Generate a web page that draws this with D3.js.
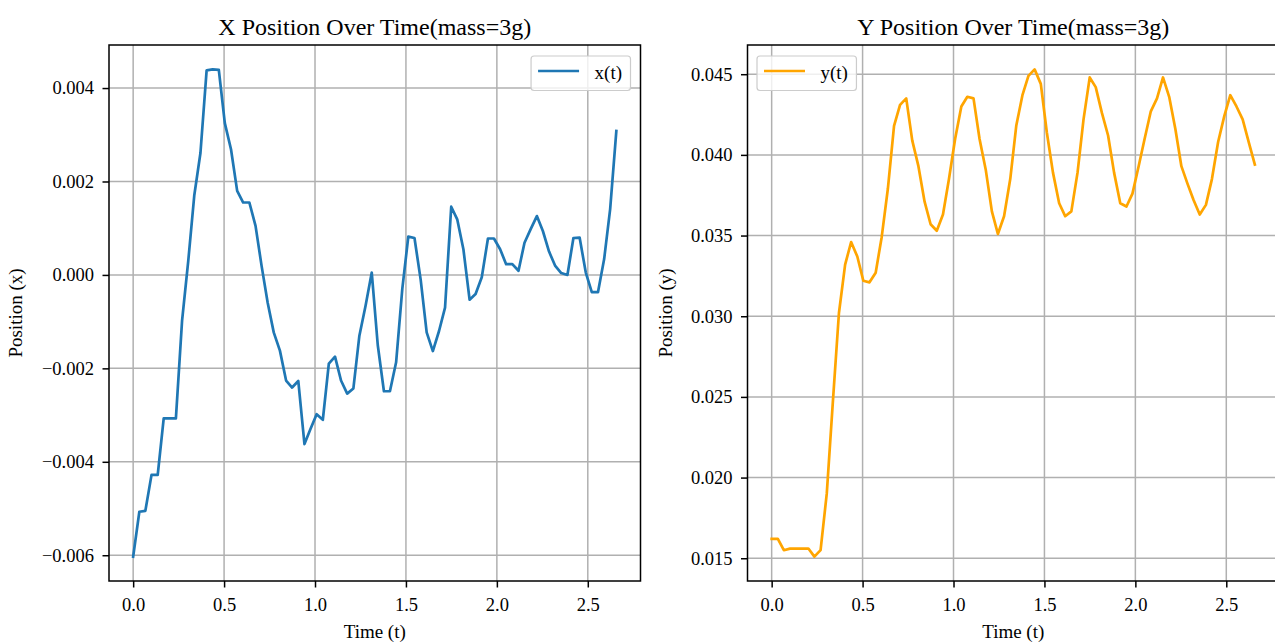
<!DOCTYPE html>
<html>
<head>
<meta charset="utf-8">
<script src="https://cdn.jsdelivr.net/npm/d3@7"></script>
<style>
  body { margin: 0; background: #fff; }
  svg text { font-family: "Liberation Serif", "Times New Roman", serif; fill: #000; }
</style>
</head>
<body>
<div id="plotspace"></div>
<script>
// time samples (s)
var times = [
    0.000, 0.034, 0.067, 0.101, 0.135, 0.168, 0.202, 0.235, 0.269, 0.303,
    0.336, 0.370, 0.404, 0.437, 0.471, 0.504, 0.538, 0.572, 0.605, 0.639,
    0.673, 0.706, 0.740, 0.773, 0.807, 0.841, 0.874, 0.908, 0.942, 0.975,
    1.009, 1.043, 1.076, 1.110, 1.143, 1.177, 1.211, 1.244, 1.278, 1.312,
    1.345, 1.379, 1.412, 1.446, 1.480, 1.513, 1.547, 1.581, 1.614, 1.648,
    1.682, 1.715, 1.749, 1.782, 1.816, 1.850, 1.883, 1.917, 1.951, 1.984,
    2.018, 2.051, 2.085, 2.119, 2.152, 2.186, 2.220, 2.253, 2.287, 2.320,
    2.354, 2.388, 2.421, 2.455, 2.489, 2.522, 2.556, 2.590, 2.623, 2.657
];

var xpos = [
    -0.00603, -0.00507, -0.00505, -0.00428, -0.00428, -0.00307, -0.00307, -0.00307, -0.00098, 0.00030,
    0.00170, 0.00261, 0.00438, 0.00440, 0.00439, 0.00325, 0.00269, 0.00180, 0.00155, 0.00155,
    0.00105, 0.00020, -0.00060, -0.00123, -0.00162, -0.00226, -0.00241, -0.00227, -0.00362, -0.00330,
    -0.00298, -0.00310, -0.00190, -0.00175, -0.00226, -0.00254, -0.00243, -0.00130, -0.00066, 0.00005,
    -0.00150, -0.00249, -0.00249, -0.00187, -0.00030, 0.00082, 0.00079, -0.00010, -0.00123, -0.00163,
    -0.00120, -0.00070, 0.00146, 0.00119, 0.00055, -0.00053, -0.00041, -0.00005, 0.00078, 0.00078,
    0.00055, 0.00023, 0.00023, 0.00009, 0.00069, 0.00098, 0.00126, 0.00094, 0.00050, 0.00020,
    0.00004, 0.00000, 0.00079, 0.00080, 0.00005, -0.00037, -0.00037, 0.00034, 0.00141, 0.00308
];

var ypos = [
    0.0162, 0.0162, 0.0155, 0.0156, 0.0156, 0.0156, 0.0156, 0.0151, 0.0155, 0.0190,
    0.0246, 0.0302, 0.0332, 0.0346, 0.0337, 0.0322, 0.0321, 0.0327, 0.0349, 0.0379,
    0.0418, 0.0431, 0.0435, 0.0409, 0.0393, 0.0371, 0.0357, 0.0353, 0.0363, 0.0385,
    0.0410, 0.0430, 0.0436, 0.0435, 0.0410, 0.0391, 0.0365, 0.0351, 0.0362, 0.0385,
    0.0418, 0.0437, 0.0449, 0.0453, 0.0444, 0.0414, 0.0389, 0.0370, 0.0362, 0.0365,
    0.0389, 0.0422, 0.0448, 0.0442, 0.0426, 0.0412, 0.0389, 0.0370, 0.0368, 0.0376,
    0.0393, 0.0410, 0.0427, 0.0435, 0.0448, 0.0436, 0.0416, 0.0393, 0.0382, 0.0372,
    0.0363, 0.0369, 0.0385, 0.0408, 0.0424, 0.0437, 0.0430, 0.0422, 0.0408, 0.0394
];

var timeTicks = [0, 0.5, 1, 1.5, 2, 2.5];
var xposTicks = [-0.006, -0.004, -0.002, 0, 0.002, 0.004];
var yposTicks = [0.015, 0.020, 0.025, 0.030, 0.035, 0.040, 0.045];

var Chart = (function() {

    var width = 1275;
    var height = 643;
    var plotTop = 45;
    var plotBottom = 581;
    var plotWidth = 531.5;
    var tickLen = 6.5;

    // matplotlib style 5% margins on each side
    var padded = function(ext) {
        var m = (ext[1] - ext[0]) * 0.05;
        return [ext[0] - m, ext[1] + m];
    };

    var panel = function(svg, left, values, yticks, opts) {
        var x = d3.scaleLinear().
            domain(padded(d3.extent(times))).
            range([left, left + plotWidth]);
        var y = d3.scaleLinear().
            domain(padded(d3.extent(values))).
            range([plotBottom, plotTop]);

        var g = svg.append("g");

        // grid
        g.selectAll("line.vgrid").
            data(timeTicks).
            enter().append("line").
            attr("class", "vgrid").
            attr("x1", function(d) { return x(d); }).
            attr("x2", function(d) { return x(d); }).
            attr("y1", plotTop).
            attr("y2", plotBottom).
            attr("stroke", "#b0b0b0").
            attr("stroke-width", 1.5);
        g.selectAll("line.hgrid").
            data(yticks).
            enter().append("line").
            attr("class", "hgrid").
            attr("x1", left).
            attr("x2", left + plotWidth).
            attr("y1", function(d) { return y(d); }).
            attr("y2", function(d) { return y(d); }).
            attr("stroke", "#b0b0b0").
            attr("stroke-width", 1.5);

        // the series
        var line = d3.line().
            x(function(d, i) { return x(times[i]); }).
            y(function(d) { return y(d); });
        g.append("path").
            datum(values).
            attr("d", line).
            attr("fill", "none").
            attr("stroke", opts.color).
            attr("stroke-width", 2.7).
            attr("stroke-linejoin", "round").
            attr("stroke-linecap", "square");

        // axes
        var bottomAxis = d3.axisBottom(x).
            tickValues(timeTicks).
            tickFormat(d3.format(".1f")).
            tickSize(tickLen).
            tickPadding(10.4);
        var leftAxis = d3.axisLeft(y).
            tickValues(yticks).
            tickFormat(d3.format(".3f")).
            tickSize(tickLen).
            tickPadding(8.5);

        var ax = g.append("g").
            attr("transform", "translate(0," + plotBottom + ")").
            call(bottomAxis);
        var ay = g.append("g").
            attr("transform", "translate(" + left + ",0)").
            call(leftAxis);
        [ax, ay].forEach(function(a) {
            a.select(".domain").remove();
            a.selectAll(".tick line").attr("stroke", "#000").attr("stroke-width", 1.5);
            a.selectAll(".tick text").
                attr("fill", "#000").
                style("font-size", "18.5px").
                style("font-family", "'Liberation Serif', 'Times New Roman', serif");
        });

        // spines
        g.append("rect").
            attr("x", left).
            attr("y", plotTop).
            attr("width", plotWidth).
            attr("height", plotBottom - plotTop).
            attr("fill", "none").
            attr("stroke", "#000").
            attr("stroke-width", 1.5);

        // title and labels
        g.append("text").
            attr("x", left + plotWidth / 2).
            attr("y", 35).
            attr("text-anchor", "middle").
            style("font-size", "24px").
            text(opts.title);
        g.append("text").
            attr("x", left + plotWidth / 2).
            attr("y", 638).
            attr("text-anchor", "middle").
            style("font-size", "19px").
            text("Time (t)");
        g.append("text").
            attr("transform", "translate(" + (left + opts.labelOffset) + "," + ((plotTop + plotBottom) / 2) + ") rotate(-90)").
            attr("text-anchor", "middle").
            style("font-size", "19px").
            text(opts.ylabel);

        // legend
        var lg = g.append("g");
        var box = lg.append("rect").
            attr("y", plotTop + 11).
            attr("height", 34.5).
            attr("rx", 3).
            attr("fill", "#fff").
            attr("fill-opacity", 0.8).
            attr("stroke", "#cccccc").
            attr("stroke-width", 1.2);
        var label = lg.append("text").
            attr("y", plotTop + 34).
            style("font-size", "19px").
            text(opts.legend);
        var textW = label.node().getComputedTextLength();
        var boxW = 64 + textW + 8;
        var bx = opts.legendRight ? left + plotWidth - 10 - boxW : left + 9.5;
        box.attr("x", bx).attr("width", boxW);
        label.attr("x", bx + 63.5);
        lg.append("line").
            attr("x1", bx + 7).
            attr("x2", bx + 48).
            attr("y1", plotTop + 26).
            attr("y2", plotTop + 26).
            attr("stroke", opts.color).
            attr("stroke-width", 2.7);
    };

    return {
        init: function() {
            var svg = d3.select("#plotspace").
                append("svg:svg").
                attr("width", width).
                attr("height", height);

            panel(svg, 109, xpos, xposTicks, {
                color: "#1f77b4",
                title: "X Position Over Time(mass=3g)",
                ylabel: "Position (x)",
                legend: "x(t)",
                legendRight: true,
                labelOffset: -87
            });
            panel(svg, 747.5, ypos, yposTicks, {
                color: "#ffa500",
                title: "Y Position Over Time(mass=3g)",
                ylabel: "Position (y)",
                legend: "y(t)",
                legendRight: false,
                labelOffset: -75.5
            });
        }
    };
}());

Chart.init();
</script>
</body>
</html>
